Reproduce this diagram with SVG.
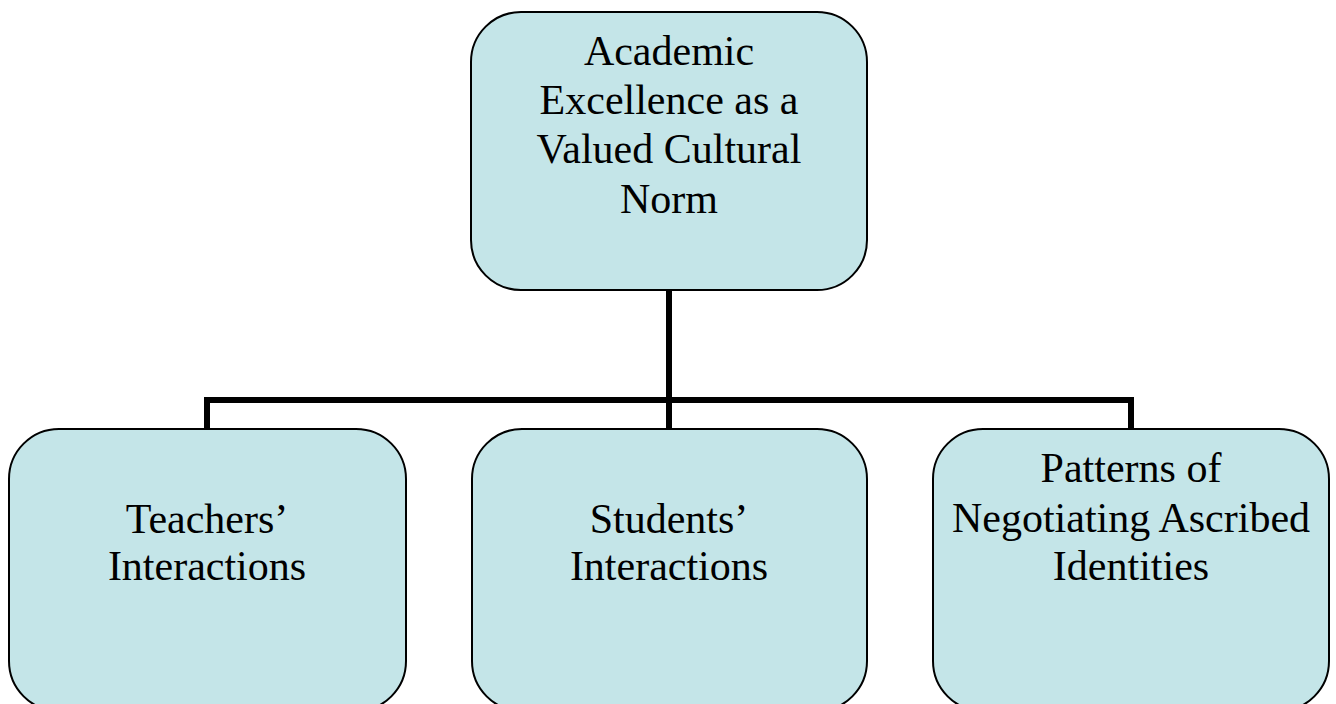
<svg xmlns="http://www.w3.org/2000/svg" width="1336" height="704" viewBox="0 0 1336 704">
<style>
.box{fill:#c4e5e8;stroke:#000;stroke-width:2}
.lbl{font-family:"Liberation Serif","Times New Roman",serif;font-size:42px;fill:#000;text-anchor:middle}
.conn{fill:none;stroke:#000;stroke-width:6;stroke-linejoin:miter;stroke-linecap:butt}
</style>
<rect width="1336" height="704" fill="#fff"/>
<g id="connectors">
<path class="conn" d="M669 290 V429"/>
<path class="conn" d="M207 429 V400 H1131 V429"/>
</g>
<g id="top">
<rect class="box" x="471" y="12" width="396" height="278" rx="50" ry="50"/>
<text class="lbl" x="669" y="65">Academic</text>
<text class="lbl" x="669" y="114">Excellence as a</text>
<text class="lbl" x="669" y="163">Valued Cultural</text>
<text class="lbl" x="669" y="213">Norm</text>
</g>
<g id="teachers">
<rect class="box" x="9" y="429" width="397" height="282" rx="50" ry="50"/>
<text class="lbl" x="207" y="533">Teachers’</text>
<text class="lbl" x="207" y="580">Interactions</text>
</g>
<g id="students">
<rect class="box" x="472" y="429" width="395" height="282" rx="50" ry="50"/>
<text class="lbl" x="669" y="533">Students’</text>
<text class="lbl" x="669" y="580">Interactions</text>
</g>
<g id="patterns">
<rect class="box" x="933" y="429" width="396" height="282" rx="50" ry="50"/>
<text class="lbl" x="1131" y="482">Patterns of</text>
<text class="lbl" x="1131" y="532">Negotiating Ascribed</text>
<text class="lbl" x="1131" y="580">Identities</text>
</g>
</svg>
